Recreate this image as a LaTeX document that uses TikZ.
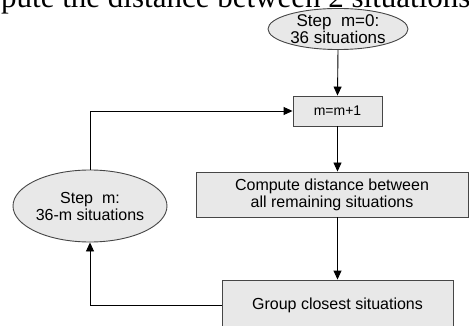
\documentclass[tikz,border=0pt]{standalone}
\usepackage{fontspec}
\setmainfont{Liberation Sans}
\newfontfamily\serifpart{Liberation Serif}
\usetikzlibrary{shapes.geometric,arrows.meta}
\definecolor{boxfill}{RGB}{232,232,232}
\definecolor{boxline}{RGB}{70,70,70}
\tikzset{
  procbox/.style={draw=boxline, fill=boxfill, line width=0.9pt, inner sep=0pt, align=center,
    font=\fontsize{16}{17}\selectfont},
  stateell/.style={draw=boxline, fill=boxfill, line width=0.9pt, ellipse, inner sep=0pt, align=center,
    font=\fontsize{16}{17}\selectfont},
  flow/.style={draw=black, line width=0.9pt, -{Triangle[length=9pt,width=8pt]}}
}
\begin{document}
\begin{tikzpicture}[x=1pt,y=-1pt]
\useasboundingbox (0,0) rectangle (469,326);
\clip (0,0) rectangle (469,326);
\node[anchor=base west, inner sep=0pt, font=\serifpart\fontsize{31}{31}\selectfont] (cut) at (1,7.5) {pute the distance between 2 situations};
\node[stateell, minimum width=140pt, minimum height=37pt, font=\fontsize{17}{17}\selectfont] (s0) at (338,29) {Step\ \ m=0:\\36 situations};
\node[procbox, minimum width=89pt, minimum height=30pt, font=\fontsize{14}{16}\selectfont] (inc) at (337.5,111) {m=m+1};
\node[procbox, minimum width=272pt, minimum height=45pt] (comp) at (332,194.5) {Compute distance between\\all remaining situations};
\node[procbox, minimum width=231pt, minimum height=50pt] (grp) at (337.5,305) {Group closest situations};
\node[stateell, minimum width=154pt, minimum height=72pt] (sm) at (90,206) {Step\ \ m:\\36-m situations};
\draw[flow] (s0.south) -- (inc.north);
\draw[flow] (inc.south) -- (inc.south |- comp.north);
\draw[flow] (inc.south |- comp.south) -- (inc.south |- grp.north);
\draw[flow] (grp.west) -| (sm.south);
\draw[flow] (sm.north) |- (inc.west);
\end{tikzpicture}
\end{document}
